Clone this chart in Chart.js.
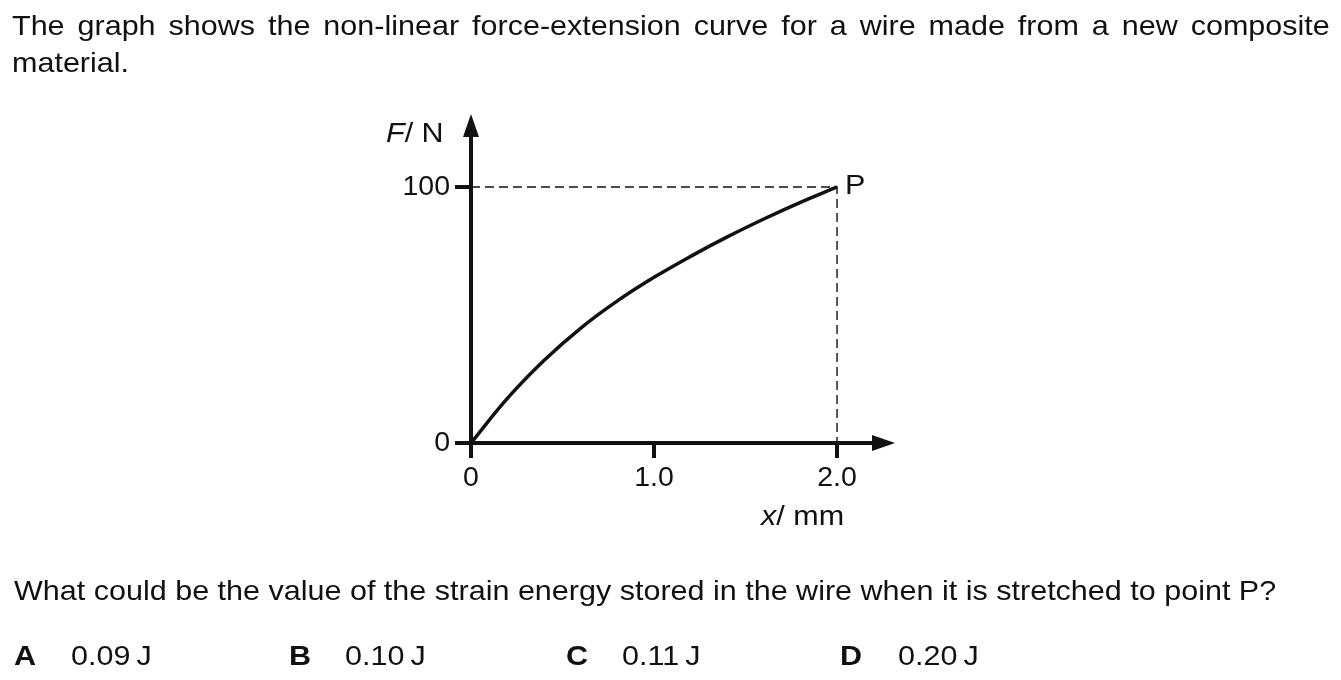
<!DOCTYPE html>
<html>
<head>
<meta charset="utf-8">
<script src="https://cdn.jsdelivr.net/npm/chart.js@4.4.1/dist/chart.umd.min.js"></script>
<style>
  html, body { margin: 0; padding: 0; background: #fff; }
  body { width: 1341px; height: 680px; position: relative; overflow: hidden;
         font-family: "Liberation Sans", Arial, sans-serif; color: #111; }
  #chart { position: absolute; left: 0; top: 0; }
  .t { position: absolute; font-size: 28px; line-height: 37px; white-space: nowrap;
       transform: scaleX(1.09); transform-origin: 0 0; }
  .just { white-space: normal; text-align: justify; text-align-last: justify; width: 1209px; }
  b { font-weight: bold; }
</style>
</head>
<body>
<canvas id="chart" width="1341" height="680"></canvas>

<div class="t just" style="left:12px; top:7px;">The graph shows the non-linear force-extension curve for a wire made from a new composite</div>
<div class="t" style="left:12px; top:44px;">material.</div>

<div class="t" style="left:386px; top:114px;"><i>F</i>/ N</div>
<div class="t" style="left:845px; top:166px;">P</div>
<div class="t" style="left:761px; top:497px;"><i>x</i>/ mm</div>

<div class="t" style="left:14px; top:572px;">What could be the value of the strain energy stored in the wire when it is stretched to point P?</div>

<div class="t" style="left:14px; top:637px;"><b>A</b></div>
<div class="t" style="left:71px; top:637px;">0.09&#8201;J</div>
<div class="t" style="left:289px; top:637px;"><b>B</b></div>
<div class="t" style="left:345px; top:637px;">0.10&#8201;J</div>
<div class="t" style="left:566px; top:637px;"><b>C</b></div>
<div class="t" style="left:622px; top:637px;">0.11&#8201;J</div>
<div class="t" style="left:840px; top:637px;"><b>D</b></div>
<div class="t" style="left:898px; top:637px;">0.20&#8201;J</div>

<script>
// ---- data ----
const extension = [0, 0.2, 0.4, 0.6, 0.8, 1.0, 1.2, 1.4, 1.6, 1.8, 2.0];        // x / mm
const force     = [0, 17.5, 32.3, 44.9, 55.5, 64.7, 72.9, 80.5, 87.5, 94.0, 100]; // F / N
const pointP    = { x: 2.0, y: 100 };
const xTickValues = [0, 1.0, 2.0];
const xTickLabels = ['0', '1.0', '2.0'];
const yTickValues = [0, 100];
const yTickLabels = ['0', '100'];

const INK = '#111';
const curve = extension.map((x, i) => ({ x: x, y: force[i] }));
const guide = [{ x: 0, y: pointP.y }, { x: pointP.x, y: pointP.y }, { x: pointP.x, y: 0 }];

const arrows = {
  id: 'arrows',
  afterDraw(chart) {
    const ctx = chart.ctx, a = chart.chartArea;
    const ox = chart.scales.x.getPixelForValue(0);
    const oy = chart.scales.y.getPixelForValue(0);
    ctx.save();
    ctx.fillStyle = INK;
    // y arrow
    ctx.beginPath();
    ctx.moveTo(ox, a.top - 10);
    ctx.lineTo(ox - 8, a.top + 13);
    ctx.lineTo(ox + 8, a.top + 13);
    ctx.closePath(); ctx.fill();
    // x arrow
    ctx.beginPath();
    ctx.moveTo(a.right + 10, oy);
    ctx.lineTo(a.right - 13, oy - 8);
    ctx.lineTo(a.right - 13, oy + 8);
    ctx.closePath(); ctx.fill();
    ctx.restore();
  }
};

new Chart(document.getElementById('chart'), {
  type: 'line',
  data: {
    datasets: [
      { data: curve, borderColor: INK, borderWidth: 3.5, pointRadius: 0,
        tension: 0.4, fill: false, order: 1 },
      { data: guide, borderColor: INK, borderWidth: 1.4, borderDash: [9, 5],
        pointRadius: 0, tension: 0, fill: false, order: 2 }
    ]
  },
  options: {
    responsive: false,
    animation: false,
    devicePixelRatio: 1,
    layout: { padding: { top: 124, left: 0, right: 456, bottom: 0 } },
    plugins: { legend: { display: false }, tooltip: { enabled: false } },
    scales: {
      x: {
        type: 'linear', min: 0, max: 2.262,
        afterBuildTicks: s => { s.ticks = xTickValues.map(v => ({ value: v })); },
        afterFit: s => { s.height = 237; },
        ticks: {
          color: INK, padding: 3, maxRotation: 0,
          font: { family: 'Liberation Sans', size: 28.5 },
          callback: v => xTickLabels[xTickValues.indexOf(v)]
        },
        grid: { drawOnChartArea: false, drawTicks: true, tickLength: 15, color: INK, lineWidth: 4 },
        border: { display: true, color: INK, width: 4 }
      },
      y: {
        type: 'linear', min: 0, max: 124.6,
        afterBuildTicks: s => { s.ticks = yTickValues.map(v => ({ value: v })); },
        afterFit: s => { s.width = 471; },
        ticks: {
          color: INK, padding: 5,
          font: { family: 'Liberation Sans', size: 28.5 },
          callback: v => yTickLabels[yTickValues.indexOf(v)]
        },
        grid: { drawOnChartArea: false, drawTicks: true, tickLength: 16, color: INK, lineWidth: 4 },
        border: { display: true, color: INK, width: 4 }
      }
    }
  },
  plugins: [arrows]
});
</script>
</body>
</html>
